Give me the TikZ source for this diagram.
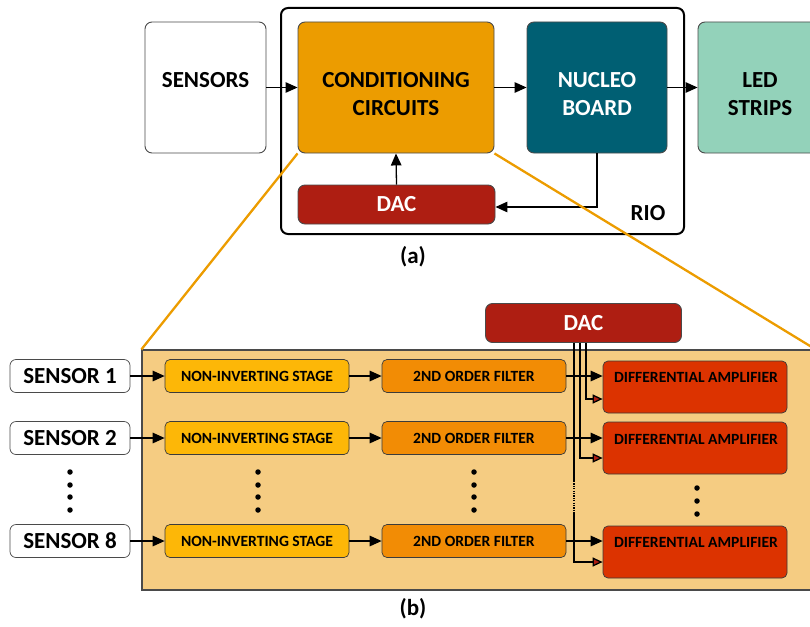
\documentclass[tikz,border=0pt]{standalone}
\usepackage{fontspec}
\setmainfont{Carlito}
\usetikzlibrary{arrows.meta,calc}

\definecolor{condorange}{HTML}{EC9C00}
\definecolor{nucleoteal}{HTML}{005F73}
\definecolor{ledmint}{HTML}{93D2BA}
\definecolor{dacred}{HTML}{AE1E12}
\definecolor{panelsand}{HTML}{F5CC82}
\definecolor{stageyellow}{HTML}{FDB707}
\definecolor{filterorange}{HTML}{F28C05}
\definecolor{ampred}{HTML}{DC3300}
\definecolor{edgegray}{HTML}{4A4A4A}

\begin{document}
\begin{tikzpicture}[x=1pt,y=-1pt,
  bigbox/.style={draw=edgegray, line width=0.9pt, rounded corners=7pt, inner sep=0pt},
  smallbox/.style={draw=edgegray!80!black, line width=0.7pt, rounded corners=5pt, inner sep=0pt,
                   minimum height=33pt, font=\bfseries\fontsize{15.6}{18}\selectfont},
  bigtext/.style={font=\bfseries\fontsize{23}{28}\selectfont, align=center, inner sep=0pt},
  conn/.style={line width=1.3pt, -{Triangle[length=12pt,width=10.5pt]}},
  redconn/.style={line width=1.3pt, -{Triangle[length=10pt,width=9pt,fill=dacred]}},
  zoomline/.style={draw=condorange, line width=2.3pt},
  dot/.style={circle, fill=black, inner sep=0pt, minimum size=5.5pt}
]
\useasboundingbox (0,0) rectangle (810,626);
\clip (0,0) rectangle (810,626);

% ---------- block diagram (a) ----------
\node[draw=black, line width=2pt, rounded corners=7pt, minimum width=403pt, minimum height=226pt]
  (rio) at (482.5,121) {};
\node[bigbox, fill=white, minimum width=121pt, minimum height=131pt] (sensors) at (205.5,87.5) {};
\node[bigbox, fill=condorange, minimum width=196pt, minimum height=131pt] (cond) at (396,87.5) {};
\node[bigbox, fill=nucleoteal, minimum width=140pt, minimum height=131pt] (nucleo) at (597,87.5) {};
\node[bigbox, fill=ledmint, minimum width=124pt, minimum height=131pt] (led) at (760,87.5) {};
\node[bigbox, fill=dacred, minimum width=197pt, minimum height=39pt,
      text=white, font=\bfseries\fontsize{23}{26}\selectfont] (dacA) at (396.5,204.5) {DAC};

\node[bigtext] (sensorsT) at (205.5,80) {SENSORS};
\node[bigtext] (condT) at (396,94) {CONDITIONING\\CIRCUITS};
\node[bigtext, text=white] (nucleoT) at (597,94) {NUCLEO\\BOARD};
\node[bigtext] (ledT) at (760,94) {LED\\STRIPS};
\node[bigtext] (rioT) at (648,213) {RIO};
\node[bigtext] (capA) at (413,257) {(a)};

\draw[conn] (sensors.east) -- (cond.west);
\draw[conn] (cond.east) -- (nucleo.west);
\draw[conn] (nucleo.east) -- (led.west);
\draw[conn] (dacA.north) -- (cond.south);
\draw[conn] (nucleo.south) |- ($(dacA.east)+(0,2.5)$);

% ---------- detail view (b) ----------
\node[draw=edgegray, line width=1.2pt, fill=panelsand, minimum width=673pt, minimum height=240pt,
      inner sep=0pt] (panel) at (478.5,470) {};
\draw[zoomline] (cond.south west) -- (panel.north west);
\draw[zoomline] (cond.south east) -- (panel.north east);

\node[bigbox, fill=dacred, minimum width=196pt, minimum height=39pt,
      text=white, font=\bfseries\fontsize{23}{26}\selectfont] (dacB) at (583.5,323) {DAC};

\tikzset{sensorbox/.style={smallbox, fill=white, draw=edgegray, rounded corners=6pt,
                           minimum width=120pt, font=\bfseries\fontsize{23}{26}\selectfont},
         stagebox/.style={smallbox, fill=stageyellow, minimum width=184pt},
         filterbox/.style={smallbox, fill=filterorange, minimum width=184pt},
         ampbox/.style={smallbox, fill=ampred, minimum width=184pt, minimum height=52pt},
         amptext/.style={font=\bfseries\fontsize{15.6}{18}\selectfont, inner sep=0pt}}

\foreach \r/\lab/\y in {1/1/376, 2/2/438, 8/8/541}{
  \node[sensorbox] (s\r) at (70,\y) {SENSOR \lab};
  \node[stagebox] (n\r) at (257,\y) {NON-INVERTING STAGE};
  \node[filterbox] (f\r) at (474,\y) {2ND ORDER FILTER};
}
\node[ampbox] (a1) at (695,387) {};
\node[ampbox] (a2) at (695,448) {};
\node[ampbox] (a8) at (695,552) {};
\node[amptext] (a1T) at (696,377) {DIFFERENTIAL AMPLIFIER};
\node[amptext] (a2T) at (696,439) {DIFFERENTIAL AMPLIFIER};
\node[amptext] (a8T) at (696,542) {DIFFERENTIAL AMPLIFIER};

% DAC reference lines into the amplifiers
\coordinate (gapTop) at ($(dacB.south)+(-9.5,138)$);
\coordinate (gapBot) at ($(dacB.south)+(-9.5,170)$);
\draw[redconn] ($(dacB.south)+(2.5,0)$) |- ($(a1.west)+(0,12)$);
\draw[redconn] ($(dacB.south)+(-3.5,0)$) |- ($(a2.west)+(0,10)$);
\draw[line width=1.3pt] ($(dacB.south)+(-9.5,0)$) -- (gapTop);
\draw[line width=1.3pt, dash pattern=on 1.2pt off 1.2pt] (gapTop) -- (gapBot);
\draw[redconn] (gapBot) |- ($(a8.west)+(0,10)$);

\foreach \r in {1,2,8}{
  \draw[conn] (s\r.east) -- (n\r.west);
  \draw[conn] (n\r.east) -- (f\r.west);
  \draw[conn] (f\r.east) -- (a1.west |- f\r.east);
}

% ellipsis dots
\foreach \x in {70,258,474}{
  \foreach \y in {472,485,497,510}{
    \node[dot] at (\x,\y) {};
  }
}
\foreach \y in {488,501,514}{
  \node[dot] at (697,\y) {};
}

\node[bigtext] (capB) at (413,609) {(b)};
\end{tikzpicture}
\end{document}
